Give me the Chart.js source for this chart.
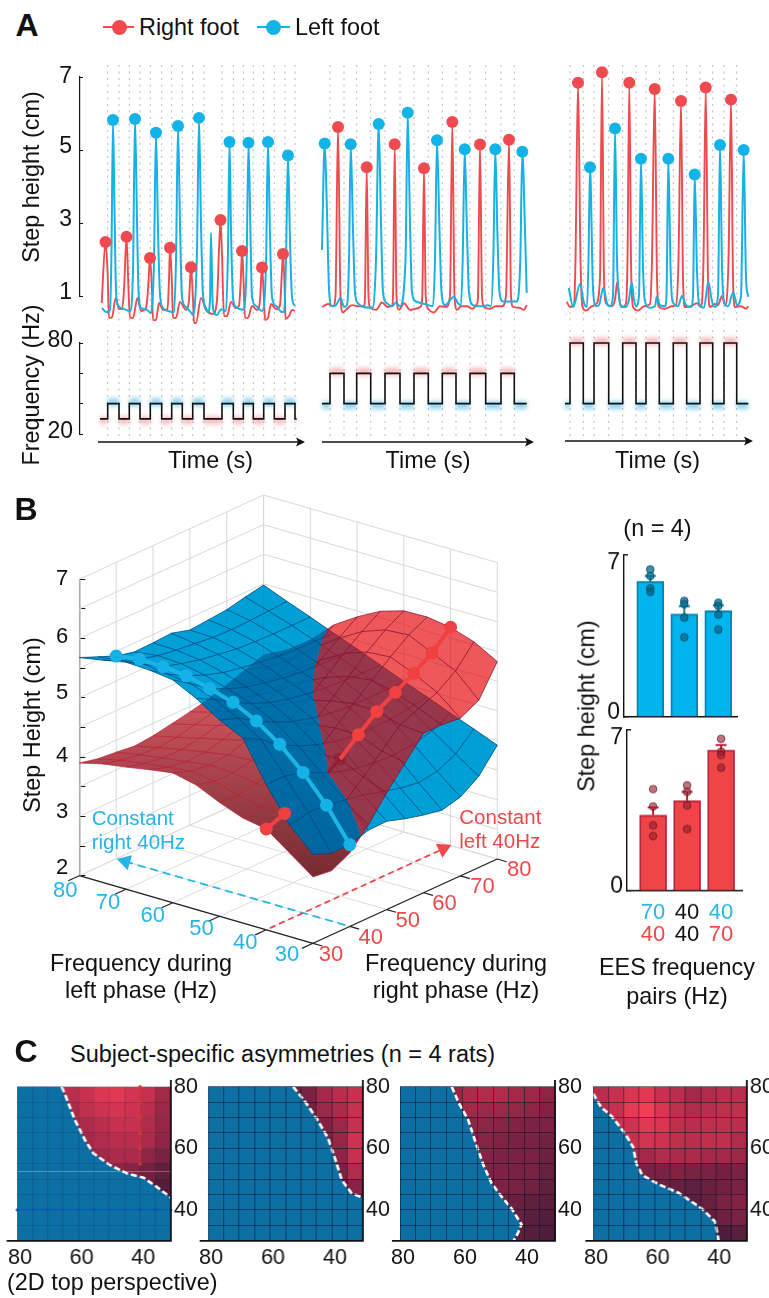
<!DOCTYPE html>
<html><head><meta charset="utf-8">
<style>
html,body{margin:0;padding:0;background:#fff;width:769px;height:1298px;overflow:hidden}
canvas{position:absolute;display:block}
.t{position:absolute;font-family:"Liberation Sans",Arial,sans-serif;color:#111;white-space:nowrap;line-height:1}
</style>
<script src="https://cdn.jsdelivr.net/npm/chart.js@4/dist/chart.umd.js"></script>
</head><body>
<script>
/* ---------- DATA : panel A (time in arbitrary ticks, height in cm, frequency in Hz) ---------- */
const p1RedTrace=[[21.7,.81],[25.5,2.48],[27.5,1.7],[29,.4],[32,.42],[35.7,.95],[39,.64],[42,.64],[44,1.16],[46.5,2.62],[48.5,1.16],[50,.4],[53,.4],[57.5,.95],[61,.59],[66,.67],[68,1.16],[70,2.04],[72,1.16],[73,.34],[76,.34],[79,.81],[83,.62],[87.5,.64],[89,1.44],[90,2.32],[92,1.3],[93,.4],[96,.4],[100,.84],[106,.62],[109,.89],[111,1.79],[113,.89],[114,.26],[116,.26],[121,.95],[126,.62],[133,.51],[137,.89],[139,2.26],[140.5,3.08],[142,2.12],[144,.45],[147,.45],[151,.84],[156,.67],[159,.73],[161,1.58],[162,2.23],[163.5,1.44],[165,.4],[168,.4],[172,.73],[177,.62],[180,.89],[182,1.78],[184,.89],[185,.34],[188,.4],[191,.78],[196,.64],[200,.75],[202,1.71],[203,2.15],[205,.89],[205.5,.37],[209,.45],[212,.62],[215,.59]];
const p1BlueTrace=[[22,.67],[26,.56],[30,.62],[31.5,2.26],[33,5.82],[34.5,3.36],[36,1.16],[38,.75],[44,.64],[50,.59],[53,1.71],[55,5.85],[57,3.08],[58.5,1.16],[61,.67],[66,.64],[71,.53],[74,1.99],[76,5.47],[78,2.81],[80,1.03],[83,.67],[88,.59],[94,.56],[96,1.99],[98,5.66],[100,2.95],[102,.97],[106,.7],[112,.51],[113,.48],[117,2.26],[119,5.88],[121,2.95],[123,1.03],[126,.67],[128,.56],[130,.89],[131,2.73],[132.5,.89],[134,.56],[137,.48],[141,.64],[146,.59],[148,2.26],[149.5,5.22],[151,2.81],[153,.95],[156,.7],[163,.62],[166.5,1.71],[168.5,5.2],[170.5,2.67],[172,.97],[176,.73],[182,.59],[186,1.85],[188,5.22],[190,2.67],[192,.97],[196,.73],[202,.56],[204,.56],[206,1.99],[208,4.85],[210,2.53],[212,.97],[215,.73]];
const p2RedTrace=[[2,.7],[8,.78],[13,.72],[15.5,1],[18,5.63],[20.5,1],[23,.55],[26,.62],[32,.75],[38,.72],[44,.72],[45,1],[46.7,4.53],[48.5,1],[50,.68],[56,.62],[62,.82],[68,.7],[72,.72],[73,1],[74.7,5.16],[76.5,1],[79,.62],[84,.8],[90,.62],[96,.65],[101,.72],[102.3,1],[104,4.5],[105.7,1],[108,.65],[114,.55],[120,.72],[126,.7],[130,1],[132.3,5.77],[134.5,1],[137,.62],[141,.72],[147,.72],[152,.65],[157,.78],[158,1],[160,5.15],[162,1],[164,.7],[170,.65],[176,.72],[182,.72],[186,1],[189,5.28],[191,1],[193,.7],[199,.68],[204,.62],[206.7,.75]];
const p2BlueTrace=[[2,2.26],[4.7,5.18],[6.7,3.6],[9,1.2],[12,.72],[16,.75],[20.7,.95],[24,.7],[27,.75],[29,2],[30.7,5.16],[33,2.8],[35,1.1],[38,.8],[42,.72],[50,.68],[53,.68],[56,2],[58.7,5.71],[61,3],[63,1.1],[67,.8],[72,.72],[76,.82],[80,.72],[85.5,2],[87.7,6.02],[90,3],[92,1.1],[96,.85],[105,.78],[113,.72],[115,2],[117,5.27],[119.5,2.8],[121.5,1.1],[125,.75],[134,.98],[138,.8],[141,.75],[142.7,2],[144.7,5.02],[147,2.7],[149,1.1],[153,.75],[160,.72],[168,.75],[171,.72],[173.3,2],[175.3,5.02],[177.5,2.6],[179.5,1.1],[183,.85],[190,.85],[197,.85],[200.3,2],[202.3,4.95],[205,2.8],[206.7,1.08]];
const p3RedTrace=[[6.7,.84],[10,.7],[14,.75],[15.5,2],[18,6.84],[20.5,2],[22.5,.7],[26,.6],[32,.72],[36,.78],[40,1.5],[42,7.13],[44,1.5],[46,.8],[52,.72],[55,.9],[57.3,1.39],[60,.8],[63,.7],[66,.8],[67.5,2],[69.3,6.84],[71,2],[73,.7],[78,.6],[84,.72],[90,.78],[92,2],[94.7,6.67],[97,1.5],[99,.7],[105,.65],[112,.72],[116,.75],[118.5,2],[121,6.34],[123,1.5],[125,.7],[131,.72],[137,.8],[141,.7],[143.5,2],[145.7,6.71],[148,1.5],[150,.7],[155,.78],[158,.75],[162,1],[165,.75],[168.5,2],[171,6.38],[173,1.5],[175,.7],[181,.72],[186,.65],[188.3,.72]];
const p3BlueTrace=[[8.7,1.22],[13.3,.7],[20,1.33],[24,.8],[27,.7],[28.5,2],[30,4.53],[33,1.2],[36,.72],[39,.75],[43.3,1.22],[47,.8],[50,.72],[53,1],[55,5.59],[57,2],[59,1],[62,.7],[66,.7],[69,.9],[71.7,1.38],[74,.9],[76,.72],[79,1],[81,4.76],[83,1.8],[85,.85],[90,.68],[95,.72],[96.7,.98],[100,.75],[105,.72],[106.5,1],[108.3,4.76],[110.5,1.8],[112.5,.85],[118,.72],[122,1],[126,.75],[131,.7],[133,1],[134.7,4.33],[137,1.7],[139,.8],[144,.68],[148.3,1.39],[152,.85],[155,.7],[158,1],[160,5.14],[162,1.8],[164,.85],[168,.72],[173.3,1.1],[177,.75],[181,1],[183.7,5],[186,1.5],[188.3,.98]];
const p1BluePeakT=[33,55,76,98,119,149.5,168.5,188,208];
const p1BluePeakH=[5.82,5.85,5.47,5.66,5.88,5.22,5.2,5.22,4.85];
const p1RedPeakT=[25.5,46.5,70,90,111,140.5,162,182,203];
const p1RedPeakH=[2.48,2.62,2.04,2.32,1.79,3.08,2.23,1.78,2.15];
const p2BluePeakT=[4.7,30.7,58.7,87.7,117,144.7,175.3,202.3];
const p2BluePeakH=[5.18,5.16,5.71,6.02,5.27,5.02,5.02,4.95];
const p2RedPeakT=[18,46.7,74.7,104,132.3,160,189];
const p2RedPeakH=[5.63,4.53,5.16,4.5,5.77,5.15,5.28];
const p3RedPeakT=[18,42,69.3,94.7,121,145.7,171];
const p3RedPeakH=[6.84,7.13,6.84,6.67,6.34,6.71,6.38];
const p3BluePeakT=[30,55,81,108.3,134.7,160,183.7];
const p3BluePeakH=[4.53,5.59,4.76,4.76,4.33,5.14,5];
const p1Rise=[27.7,49.3,70.3,91.7,112.7,142,163.3,183.7,205];
const p1Fall=[39,60,81.7,102.3,124,153.3,173.3,194.3,215];
const p2Rise=[10,36.7,65,94,122.3,150,181];
const p2Fall=[24,50.7,80,108.3,136,165.7,194.3];
const p3Rise=[10,34,62.7,86,113.3,140,164];
const p3Fall=[23.3,48.7,76,99.3,126.7,152.7,176.7];
const freqLevels=[[30,40],[40,60],[40,80]];
const freqSpan=[[20,216.7],[2,206.7],[5,188.3]];

/* ---------- DATA : panel B ---------- */
const freqGrid=[80,75,70,65,60,55,50,45,40,35,30];           /* rows: left-phase Hz */
const freqCols=[30,35,40,45,50,55,60,65,70,75,80];           /* cols: right-phase Hz */
const leftFootSurface=[
[5.68,5.55,5.42,5.35,5.36,5.38,5.29,5.32,5.35,5.42,5.48],
[5.75,5.6,5.48,5.4,5.35,5.32,5.28,5.27,5.28,5.3,5.32],
[5.83,5.65,5.47,5.38,5.3,5.25,5.2,5.18,5.17,5.17,5.17],
[5.81,5.6,5.43,5.3,5.2,5.14,5.09,5.05,5.03,5.02,5.01],
[5.76,5.55,5.33,5.18,5.07,5,4.94,4.9,4.88,4.87,4.86],
[5.56,5.4,5.21,5.05,4.92,4.84,4.78,4.74,4.72,4.71,4.7],
[5.31,5.2,5.01,4.85,4.72,4.63,4.57,4.54,4.53,4.54,4.54],
[5.12,4.95,4.73,4.56,4.44,4.35,4.3,4.29,4.3,4.34,4.39],
[4.45,4.45,4.37,4.22,4.1,4.02,3.98,3.97,3.99,4.08,4.23],
[3.88,3.95,3.93,3.88,3.82,3.73,3.65,3.6,3.65,3.8,4.08],
[3.5,3.38,3.38,3.48,3.49,3.39,3.31,3.25,3.33,3.54,3.92]];
const rightFootSurface=[
[3.9,3.83,3.8,3.76,3.79,3.85,3.91,3.98,4.08,4.19,4.3],
[4,3.92,3.87,3.85,3.88,3.95,4.02,4.1,4.22,4.36,4.5],
[4.06,3.98,3.93,3.93,3.98,4.05,4.15,4.27,4.42,4.6,4.78],
[4.13,4.03,3.98,4,4.07,4.18,4.32,4.47,4.68,4.92,5.15],
[4.19,4.08,4.04,4.07,4.17,4.33,4.5,4.72,4.95,5.18,5.4],
[4.1,4.02,4.02,4.09,4.23,4.44,4.68,4.92,5.18,5.41,5.61],
[3.92,3.9,3.96,4.08,4.27,4.52,4.78,5.05,5.32,5.55,5.73],
[3.77,3.8,3.93,4.08,4.3,4.58,4.85,5.1,5.35,5.58,5.74],
[3.7,3.82,3.96,4.11,4.31,4.58,4.83,5.01,5.19,5.39,5.68],
[3.41,3.45,3.6,3.85,4.12,4.42,4.72,4.85,4.98,5.2,5.55],
[3.12,3.08,3.24,3.57,3.97,4.33,4.69,4.69,4.66,4.82,5.33]];
const constRight40=[5.42,5.48,5.47,5.43,5.33,5.21,5.01,4.73,4.37,3.93,3.38]; /* fr=40, along freqGrid */
const constLeft40=[3.7,3.82,3.96,4.11,4.31,4.58,4.83,5.01,5.19,5.39,5.68];   /* fl=40, along freqCols */
const axisHz=[80,70,60,50,40,30];
const barPositions=[1,2,3];
const leftBars=[5.87,4.45,4.59];
const leftCaps=[6.1,4.79,4.83];
const leftDots=[[6.38,6.1,5.56,5.41],[5.02,4.88,4.3,3.45],[4.94,4.8,4.43,3.78]];
const rightBars=[3.3,3.92,6.13];
const rightCaps=[3.63,4.31,6.35];
const rightDots=[[4.43,3.67,2.85,2.38],[4.59,4.31,3.72,2.69],[6.62,6.06,5.91,5.36]];
const pairTop=['70','40','40'];
const pairBottom=['40','40','70'];

/* ---------- DATA : panel C (rows fr 80→30, cols fl 80→30) ---------- */
const asym1=[[0,0,.85,.85,.95,1.15,1.2,1.05,.95,.7],[0,0,0,.75,.9,1,1.05,1,.85,.65],[0,0,0,.75,.75,.85,.95,.95,.8,.6],[0,0,0,0,.7,.8,.85,.85,.75,.55],[0,0,0,0,.6,.7,.75,.75,.55,.4],[0,0,0,0,.6,.55,.55,.5,.35,.2],[0,0,0,0,0,.45,.45,.4,.3,.1],[0,0,0,0,0,0,0,.3,.2,.05],[0,0,0,0,0,0,0,0,0,0],[0,0,0,0,0,0,0,0,0,0]];
const asym2=[[0,0,0,0,0,.3,.4,.7,.85,.95],[0,0,0,0,0,0,.35,.65,.75,.95],[0,0,0,0,0,0,.3,.45,.65,.95],[0,0,0,0,0,0,0,.4,.6,1],[0,0,0,0,0,0,0,.3,.55,.95],[0,0,0,0,0,0,0,0,.4,.8],[0,0,0,0,0,0,0,0,.15,.5],[0,0,0,0,0,0,0,0,.05,.15],[0,0,0,0,0,0,0,0,0,0],[0,0,0,0,0,0,0,0,0,0]];
const asym3=[[0,0,0,.6,.75,.8,.8,.7,.65,.55],[0,0,0,.6,.7,.65,.65,.6,.55,.45],[0,0,0,0,.55,.55,.5,.45,.42,.42],[0,0,0,0,.5,.5,.45,.4,.4,.33],[0,0,0,0,0,.5,.42,.4,.38,.3],[0,0,0,0,0,.45,.42,.38,.38,.25],[0,0,0,0,0,0,.42,.38,.33,.2],[0,0,0,0,0,0,.35,.28,.2,.15],[0,0,0,0,0,0,0,.25,.15,.1],[0,0,0,0,0,0,0,.2,.12,.05]];
const asym4=[[.85,.95,1.1,1.2,.95,.85,.7,.8,.85,.85],[.85,.95,1.25,1.35,1.1,.9,.8,.85,.9,.9],[0,.95,1,1.2,1.1,.9,.85,.9,.9,.85],[0,0,.95,1.05,1,.9,.85,.9,.9,.8],[0,0,.75,.7,.8,.75,.75,.7,.7,.65],[0,0,.4,.4,.4,.45,.4,.4,.35,.4],[0,0,0,.35,.3,.25,.2,.25,.35,.4],[0,0,0,0,0,.15,.15,.25,.4,.45],[0,0,0,0,0,0,0,.2,.3,.4],[0,0,0,0,0,0,0,0,.05,.15]];
const boundary1=[[65.5,80],[63.9,76.2],[61.2,69.2],[57.9,62.7],[55.2,58.4],[49.8,54.6],[44.3,51.9],[38.9,50.5],[34.6,47.5],[30,44]];
const boundary2=[[52.5,80],[48.7,75.2],[44.9,69.7],[41.2,63.2],[39,56.7],[36.8,49.7],[33.6,45.4],[30,44]];
const boundary3=[[63.3,80],[61.2,75.1],[58,69.2],[55.3,61],[53.1,54.6],[50.4,48.6],[47.2,44.3],[44,40.5],[40.8,35.3],[42,32.4],[43.4,30]];
const boundary4=[[80,77.8],[77.3,73.3],[74,70.5],[69.7,64.9],[67,60.5],[65.9,55.1],[64,51.3],[58.8,48.4],[52.3,45.6],[44.7,40.5],[40.3,36.2],[39.2,30]];
const heatHz=[75,70,65,60,55,50,45,40,35,30];

/* ---------- styling ---------- */
const RED='#ee4a4f', BLUE='#18b1e2', TXTRED='#f0474a', TXTBLUE='#27b4e8', INK='#111';
Chart.defaults.font.family='"Liberation Sans",Arial,sans-serif';
Chart.defaults.color=INK;

Chart.register({
 id:'polyLayer',
 beforeDatasetDraw(chart,args){
  const ds=chart.data.datasets[args.index];
  if(!ds.polyCounts) return;
  const ctx=chart.ctx, pts=args.meta.data;
  const path=()=>{ctx.beginPath();let k=0;
    for(const n of ds.polyCounts){for(let i=0;i<n;i++){const p=pts[k++];i?ctx.lineTo(p.x,p.y):ctx.moveTo(p.x,p.y);}ctx.closePath();}};
  ctx.save();
  if(ds.polyPre){ctx.globalCompositeOperation='multiply';ctx.fillStyle=ds.polyPre;path();ctx.fill();ctx.globalCompositeOperation='source-over';}
  if(ds.polyGradient){const s=chart.scales.y,[a,ca,b,cb]=ds.polyGradient;
    const g=ctx.createLinearGradient(0,s.getPixelForValue(a),0,s.getPixelForValue(b));g.addColorStop(0,ca);g.addColorStop(1,cb);ctx.fillStyle=g;}
  else ctx.fillStyle=ds.polyFill;
  path();ctx.fill();ctx.restore();
  return false;
 }
},{
 id:'blurLayer',
 beforeDatasetDraw(chart,args){const ds=chart.data.datasets[args.index];
  if(ds.blurPx){chart.ctx.save();chart.ctx.filter='blur('+ds.blurPx+'px)';}},
 afterDatasetDraw(chart,args){const ds=chart.data.datasets[args.index];
  if(ds.blurPx){chart.ctx.restore();}}
},{
 id:'nudge',
 beforeDraw(chart,args,opts){
  if(!opts.shifts) return;
  const items=chart.scales.y.getLabelItems();
  items.forEach((it,i)=>{if(opts.shifts[i]) it.options.translation=[it.options.translation[0],it.options.translation[1]+opts.shifts[i]];});
 }
});

function line(data,color,width,extra){return Object.assign({type:'scatter',data,showLine:true,borderColor:color,backgroundColor:color,borderWidth:width,pointRadius:0,clip:false,spanGaps:false},extra||{});}
function dots(data,color,r,extra){return Object.assign({type:'scatter',data,showLine:false,backgroundColor:color,borderColor:color,pointRadius:r,pointBorderWidth:0,clip:false},extra||{});}
const xy=a=>a.map(p=>({x:p[0],y:p[1]}));
const zip=(t,h)=>t.map((v,i)=>({x:v,y:h[i]}));
const zeroW=s=>{s.width=0;s.paddingTop=0;s.paddingBottom=0;s._computeLabelArea=()=>undefined;};
const zeroH=s=>{s.height=0;s.paddingLeft=0;s.paddingRight=0;s._computeLabelArea=()=>undefined;};

function makeChart(rect,area,scales,datasets,extra){
 const c=document.createElement('canvas');
 c.width=rect.w;c.height=rect.h;c.style.left=rect.x+'px';c.style.top=rect.y+'px';c.style.width=rect.w+'px';c.style.height=rect.h+'px';
 document.body.appendChild(c);
 const e=extra||{};
 return new Chart(c.getContext('2d'),{type:'scatter',
  data:{datasets:datasets.slice().reverse()},
  options:{responsive:false,animation:false,devicePixelRatio:1,
   layout:{padding:{left:area.l-rect.x,top:area.t-rect.y,right:rect.x+rect.w-area.r,bottom:rect.y+rect.h-area.b}},
   scales,
   plugins:Object.assign({legend:{display:false},tooltip:{enabled:false},title:{display:false}},e.pluginOpts||{})},
  plugins:e.plugins||[]});
}
function hiddenX(min,max){return {type:'linear',display:false,min,max};}
function leftAxis(min,max,step,labels,size,tick,pad,off,bw){
 return {type:'linear',position:'left',min,max,afterFit:zeroW,
  border:{display:true,color:INK,width:bw||1.2},
  grid:{drawOnChartArea:false,drawTicks:true,tickLength:-tick,color:INK,lineWidth:1},
  ticks:{stepSize:step,autoSkip:false,padding:pad,color:INK,labelOffset:off||0,font:{size},callback:v=>labels.includes(v)?String(v):''}};
}

/* ---------- text ---------- */
function T(txt,x,y,o){o=o||{};const d=document.createElement('div');d.className='t';d.textContent=txt;
 d.style.left=x+'px';d.style.top=y+'px';d.style.fontSize=(o.size||23.4)+'px';
 if(o.color)d.style.color=o.color;if(o.bold)d.style.fontWeight='bold';
 const tx=o.align==='left'?'0':'-50%';
 d.style.transform='translate('+tx+',-50%)'+(o.rot?' rotate('+o.rot+'deg)':'');
 document.body.appendChild(d);return d;}

/* ---------- Panel A ---------- */
function runs(rise,fall,span){const hi=[],lo=[];let s=span[0];
 rise.forEach((r,i)=>{lo.push({x:s,y:0},{x:r,y:0},{x:r,y:null});hi.push({x:r,y:1},{x:fall[i],y:1},{x:fall[i],y:null});s=fall[i];});
 lo.push({x:s,y:0},{x:span[1],y:0});return {hi,lo};}
function wave(rise,fall,span,lv){const w=[{x:span[0],y:lv[0]}];
 rise.forEach((r,i)=>{w.push({x:r,y:lv[0]},{x:r,y:lv[1]},{x:fall[i],y:lv[1]},{x:fall[i],y:lv[0]});});
 w.push({x:span[1],y:lv[0]});return w;}
function dotted(rise,fall,a,b){const out=[];rise.concat(fall).forEach(t=>{out.push({x:t,y:a},{x:t,y:b},{x:t,y:null});});return out;}
const dotStyle={borderDash:[2,4.5]};
function panelA(cfg){
 const W=cfg.r-cfg.l, showAxis=cfg.axis;
 const yH=showAxis?leftAxis(1,7,2,[1,3,5,7],23,3,11,0):{type:'linear',display:false,min:1,max:7};
 makeChart({x:cfg.l-40,y:50,w:W+60,h:285},{l:cfg.l,r:cfg.r,t:77,b:296},
  {x:hiddenX(0,W),y:yH},
  [line(dotted(cfg.rise,cfg.fall,7.33,.2),'#b9b9b9',1,dotStyle),
   line(xy(cfg.red),RED,1.9,{cubicInterpolationMode:'monotone'}),
   line(xy(cfg.blue),BLUE,2,{cubicInterpolationMode:'monotone'}),
   dots(cfg.redPeaks,RED,6),
   dots(cfg.bluePeaks,'#12b4e8',6)],
  {pluginOpts:showAxis?{nudge:{shifts:[-3,-3,-3,0]}}:{}});
 const yF=showAxis?leftAxis(20,80,20,[20,80],23,3,10,-2):{type:'linear',display:false,min:20,max:80};
 const lv=cfg.level, R=runs(cfg.rise,cfg.fall,cfg.span);
 const shift=(a,v)=>a.map(p=>({x:p.x,y:p.y===null?null:v}));
 const end=cfg.arrow[1];
 const head=[{x:end.x+3,y:end.y},{x:end.x-6,y:end.y+3},{x:end.x-4,y:end.y},{x:end.x-6,y:end.y-3}];
 makeChart({x:cfg.l-40,y:325,w:W+60,h:130},{l:cfg.l,r:cfg.r,t:343,b:434},
  {x:hiddenX(0,W),y:yF},
  [line(dotted(cfg.rise,cfg.fall,88.6,18.7),'#b9b9b9',1,dotStyle),
   line(shift(R.hi,lv[1]+1),cfg.hiGlow,8,{blurPx:2}),
   line(shift(R.lo,lv[0]-1),cfg.loGlow,8,{blurPx:2}),
   line(wave(cfg.rise,cfg.fall,cfg.span,lv),'#111',1.6),
   line(cfg.arrow,'#111',1.5),
   polyDs(head,[4],{polyFill:'#111'})]);
}
const polyDs=(data,polyCounts,o)=>Object.assign({type:'scatter',data,polyCounts,showLine:false,pointRadius:0,clip:false},o);
const GLOWB='rgba(40,170,225,.5)',GLOWR='rgba(240,80,90,.38)';
panelA({l:80,r:305,axis:true,rise:p1Rise,fall:p1Fall,span:freqSpan[0],level:freqLevels[0],red:p1RedTrace,blue:p1BlueTrace,
 redPeaks:zip(p1RedPeakT,p1RedPeakH),bluePeaks:zip(p1BluePeakT,p1BluePeakH),hiGlow:GLOWB,loGlow:GLOWR,
 arrow:[{x:18,y:14.7},{x:222,y:14.7}]});
panelA({l:320,r:540,axis:false,rise:p2Rise,fall:p2Fall,span:freqSpan[1],level:freqLevels[1],red:p2RedTrace,blue:p2BlueTrace,
 redPeaks:zip(p2RedPeakT,p2RedPeakH),bluePeaks:zip(p2BluePeakT,p2BluePeakH),hiGlow:GLOWR,loGlow:GLOWB,
 arrow:[{x:2,y:14.7},{x:211,y:14.7}]});
panelA({l:560,r:760,axis:false,rise:p3Rise,fall:p3Fall,span:freqSpan[2],level:freqLevels[2],red:p3RedTrace,blue:p3BlueTrace,
 redPeaks:zip(p3RedPeakT,p3RedPeakH),bluePeaks:zip(p3BluePeakT,p3BluePeakH),hiGlow:GLOWR,loGlow:GLOWB,
 arrow:[{x:5,y:15.4},{x:190,y:15.4}]});

T('A',27,25,{size:32,bold:true});
T('Step height (cm)',32,177,{rot:-90});
T('Frequency (Hz)',32,385,{rot:-90});
T('Time (s)',210.5,461);T('Time (s)',428,461);T('Time (s)',657.5,461);
T('Right foot',139,28,{align:'left'});T('Left foot',295,28,{align:'left'});
/* legend keys */
function key(x1,x2,cx,col){const l=document.createElement('div');l.style.cssText='position:absolute;left:'+x1+'px;top:26px;width:'+(x2-x1)+'px;height:2px;background:'+col;document.body.appendChild(l);
 const d=document.createElement('div');d.style.cssText='position:absolute;left:'+(cx-7.5)+'px;top:19.5px;width:15px;height:15px;border-radius:50%;background:'+col;document.body.appendChild(d);}
key(103,134,119,RED);key(257,290,273,'#12b4e8');

/* ---------- Panel B : 3-D surfaces projected on the chart's own scales ---------- */
const proj=(fl,fr,h)=>({x:4.674*(80-fl)+3.686*(fr-30),y:h-(1.352*(80-fl)-1.686*(fr-30))/59.28});
const GAP=()=>({x:0,y:null});
function seg(out,a,b){out.push(proj(a[0],a[1],a[2]),proj(b[0],b[1],b[2]),GAP());}
const walls=[],floorLines=[],axesLines=[];
const h2s=[2,2.5,3,3.5,4,4.5,5,5.5,6,6.5,7];
axisHz.forEach(v=>{
 seg(walls,[80,v,2],[80,v,7]);seg(walls,[v,80,2],[v,80,7]);
 seg(floorLines,[v,30,2],[v,80,2]);seg(floorLines,[80,v,2],[30,v,2]);
 seg(axesLines,[v,30,2],[v,27,2]);seg(axesLines,[30,v,2],[28,v,2]);
});
h2s.forEach(h=>{seg(walls,[80,30,h],[80,80,h]);seg(walls,[80,80,h],[30,80,h]);});
seg(axesLines,[80,30,2],[30,30,2]);seg(axesLines,[30,30,2],[30,80,2]);

const blueFlat=[],blueCounts=[],blueMesh=[];
const redLowFlat=[],redLowCounts=[],redHiFlat=[],redHiCounts=[],redLowMesh=[],redHiMesh=[];
const node=(i,j)=>({fl:freqGrid[i],fr:freqCols[j],r:rightFootSurface[i][j],d:rightFootSurface[i][j]-leftFootSurface[i][j]});
function clipPoly(corners,sign){const out=[];
 corners.forEach((a,k)=>{const b=corners[(k+1)%corners.length];
  if(sign*a.d>=0)out.push(a);
  if(a.d*b.d<0){const t=a.d/(a.d-b.d);out.push({fl:a.fl+t*(b.fl-a.fl),fr:a.fr+t*(b.fr-a.fr),r:a.r+t*(b.r-a.r),d:0});}
 });return out;}
function meshSeg(a,b){
 const put=(o,p,q)=>{o.push(proj(p.fl,p.fr,p.r),proj(q.fl,q.fr,q.r),GAP());};
 if(a.d*b.d<0){const t=a.d/(a.d-b.d),m={fl:a.fl+t*(b.fl-a.fl),fr:a.fr+t*(b.fr-a.fr),r:a.r+t*(b.r-a.r),d:0};
  put(a.d<0?redLowMesh:redHiMesh,a,m);put(b.d<0?redLowMesh:redHiMesh,m,b);}
 else put((a.d+b.d)<0?redLowMesh:redHiMesh,a,b);}
for(let i=0;i<11;i++)for(let j=0;j<11;j++){
 const B=(a,b)=>proj(freqGrid[a],freqCols[b],leftFootSurface[a][b]);
 if(j<10){blueMesh.push(B(i,j),B(i,j+1),GAP());meshSeg(node(i,j),node(i,j+1));}
 if(i<10){blueMesh.push(B(i,j),B(i+1,j),GAP());meshSeg(node(i,j),node(i+1,j));}
 if(i<10&&j<10){
  blueFlat.push(B(i,j),B(i,j+1),B(i+1,j+1),B(i+1,j));blueCounts.push(4);
  const q=[node(i,j),node(i,j+1),node(i+1,j+1),node(i+1,j)];
  const lo=clipPoly(q,-1),hi=clipPoly(q,1);
  if(lo.length>2){lo.forEach(p=>redLowFlat.push(proj(p.fl,p.fr,p.r)));redLowCounts.push(lo.length);}
  if(hi.length>2){hi.forEach(p=>redHiFlat.push(proj(p.fl,p.fr,p.r)));redHiCounts.push(hi.length);}
 }
}
const bluePath=freqGrid.map((f,i)=>proj(f,40,constRight40[i]));
const redPath=freqCols.map((f,i)=>proj(40,f,constLeft40[i]));
const bLabels={id:'floorLabels',afterDatasetsDraw(chart){
 const ctx=chart.ctx,X=chart.scales.x,Y=chart.scales.y;
 ctx.save();ctx.font='22px "Liberation Sans",Arial,sans-serif';ctx.textAlign='center';ctx.textBaseline='middle';
 const blueOff=[[-14,15],[-18,14],[-20,13],[-18,13],[-21,13],[-26,12]];
 const redOff=[[22,11],[22,11],[21,11],[21,11],[21,11],[18,12]];
 axisHz.forEach((v,i)=>{
  let p=proj(v,30,2);ctx.fillStyle=TXTBLUE;
  ctx.fillText(String(v),X.getPixelForValue(p.x)+blueOff[i][0],Y.getPixelForValue(p.y)+blueOff[i][1]);
  p=proj(30,v,2);ctx.fillStyle=TXTRED;
  ctx.fillText(String(v),X.getPixelForValue(p.x)+redOff[i][0],Y.getPixelForValue(p.y)+redOff[i][1]);
 });ctx.restore();}};
const whiteBg={id:'whiteBg',beforeDraw(chart){const c=chart.ctx;c.save();c.fillStyle='#fff';c.fillRect(0,0,chart.width,chart.height);c.restore();}};
const floorBlue=[proj(31,40,2),proj(79,40,2)], floorRed=[proj(40,31,2),proj(40,79,2)];
const arrowBlue=[proj(78,40,2)], arrowRed=[proj(40,78,2)];
makeChart({x:0,y:480,w:590,h:500},{l:79.3,r:530,t:579.3,b:875.7},
 {x:hiddenX(0,450.7),y:leftAxis(2,7,.5,[2,3,4,5,6,7],22,6,17,0)},
 [line(walls,'#d4dadc',1),
  line(floorLines,'#d8dde0',1),
  line(floorBlue,TXTBLUE,1.8,{borderDash:[8,5]}),
  line(floorRed,TXTRED,1.8,{borderDash:[6,4]}),
  dots(arrowBlue,TXTBLUE,9,{pointStyle:'triangle',pointRotation:-73.9}),
  dots(arrowRed,TXTRED,9,{pointStyle:'triangle',pointRotation:65.4}),
  line(axesLines,'#222',1.2),
  polyDs(redLowFlat,redLowCounts,{polyGradient:[4.96,'rgb(205,85,95)',1.93,'rgb(115,42,48)']}),
  line(redLowMesh,'rgba(190,28,55,.75)',.9),
  line(redPath.slice(1,5),RED,4),
  dots(redPath.slice(2,5),'#ee3f3f',6.5),
  polyDs(blueFlat,blueCounts,{polyPre:'rgb(0,255,255)',polyFill:'rgba(0,123,199,.72)'}),
  line(blueMesh,'rgba(8,70,125,.85)',.9),
  line(redPath.slice(0,2),'#f0403f',4),
  dots(redPath.slice(0,2),'#f0403f',6.5),
  polyDs(redHiFlat,redHiCounts,{polyFill:'rgba(229,0,3,.655)'}),
  line(redHiMesh,'rgba(125,15,50,.8)',.9),
  line(redPath.slice(4),'#f0403f',4),
  dots(redPath.slice(5),'#f0403f',6.5),
  line(bluePath,'#1cb5e6',4),
  dots(bluePath,'#14b2e6',6.5)],
 {plugins:[whiteBg,bLabels],pluginOpts:{nudge:{shifts:[-8,0,-4,0,-1,0,-5,0,-2,0,0]}}});
T('B',26,509,{size:32,bold:true});
T('Step Height (cm)',33,725,{rot:-90});
T('Constant',91.7,818,{align:'left',size:20.5,color:TXTBLUE});
T('right 40Hz',91.7,842,{align:'left',size:20.5,color:TXTBLUE});
T('Constant',459.3,817,{align:'left',size:20.5,color:TXTRED});
T('left 40Hz',459.3,841,{align:'left',size:20.5,color:TXTRED});
T('Frequency during',141,964);T('left phase (Hz)',141,991);
T('Frequency during',456,964);T('right phase (Hz)',456,991);

/* bars */
function bars(cfg){
 const px=34, W=cfg.r-cfg.l, min=1-(cfg.c1-cfg.l)/px, max=min+W/px;
 const tick3=s=>{s.ticks=barPositions.map(v=>({value:v}));};
 const xAxis=(id,labels,colors,pad,show)=>({type:'linear',position:'bottom',min,max,axis:'x',offset:false,afterFit:zeroH,afterBuildTicks:tick3,
   border:{display:id==='x',color:INK,width:1.6},grid:{display:false,drawTicks:false,offset:false},
   ticks:{display:show,autoSkip:false,maxRotation:0,padding:pad,font:{size:22},color:c=>colors[c.index],callback:(v,i)=>labels[i]}});
 const scales={x:xAxis('x',pairTop,[TXTBLUE,INK,TXTBLUE],9,cfg.labels),
  y:{type:'linear',position:'left',min:0,max:7,afterFit:zeroW,afterBuildTicks:s=>{s.ticks=[{value:0},{value:7}];},
   border:{display:true,color:INK,width:1.4},grid:{drawOnChartArea:false,drawTicks:true,tickLength:-4,color:INK,lineWidth:1.4},
   ticks:{autoSkip:false,padding:8,color:INK,font:{size:23},callback:v=>String(v)}}};
 if(cfg.labels) scales.x2=xAxis('x2',pairBottom,[TXTRED,INK,TXTRED],31,true);
 const allDots=[];cfg.dots.forEach((a,i)=>a.forEach(v=>allDots.push({x:barPositions[i],y:v})));
 const ds=[{type:'bar',data:zip(barPositions,cfg.vals),backgroundColor:cfg.fill,borderColor:cfg.stroke,borderWidth:2,barThickness:27,grouped:false}];
 barPositions.forEach((p,i)=>ds.push(line([{x:p,y:cfg.vals[i]},{x:p,y:cfg.caps[i]}],cfg.err,2)));
 ds.push({type:'scatter',data:zip(barPositions,cfg.caps),showLine:false,pointStyle:'line',pointRadius:5.5,pointBorderWidth:2,borderColor:cfg.err,pointBorderColor:cfg.err,clip:false});
 ds.push({type:'scatter',data:allDots,showLine:false,pointRadius:3.8,pointBackgroundColor:cfg.dot,pointBorderColor:cfg.dotB,pointBorderWidth:1,clip:false});
 makeChart({x:cfg.l-35,y:cfg.t-20,w:W+50,h:cfg.b-cfg.t+(cfg.labels?75:32)},{l:cfg.l,r:cfg.r,t:cfg.t,b:cfg.b},scales,ds,{pluginOpts:{nudge:{shifts:[-4,8]}}});
}
bars({l:624,r:737,c1:650.3,t:555,b:716.7,vals:leftBars,caps:leftCaps,dots:leftDots,fill:'#00b5ee',stroke:'#0a84ac',err:'#0a7ea8',dot:'rgba(0,105,140,.75)',dotB:'rgba(0,70,100,.8)',labels:false});
bars({l:626.7,r:741.7,c1:652.8,t:730,b:890.7,vals:rightBars,caps:rightCaps,dots:rightDots,fill:'#f04548',stroke:'#b52a3c',err:'#c0233b',dot:'rgba(150,30,45,.62)',dotB:'rgba(110,25,35,.75)',labels:true});
T('(n = 4)',657.5,529);
T('Step height (cm)',587,706,{rot:-90});
T('EES frequency',677,968);T('pairs (Hz)',677,997);

/* ---------- Panel C ---------- */
function shade(v){const st=[[0,72,28,58],[.5,135,35,68],[1,205,50,80],[1.35,240,62,85]];
 for(let i=1;i<st.length;i++){if(v<=st[i][0]){const a=st[i-1],b=st[i],t=(v-a[0])/(b[0]-a[0]);
  return 'rgb('+[1,2,3].map(k=>Math.round(a[k]+t*(b[k]-a[k]))).join(',')+')';}}return 'rgb(240,62,85)';}
function heat(cfg){
 const cells=[],cols=[];
 cfg.m.forEach((row,r)=>row.forEach((v,c)=>{cells.push({x:heatHz[c]+2.5,y:heatHz[r]+2.5});cols.push(shade(v));}));
 const side=(cfg.r-cfg.l)/10+.6;
 const gridOpt={z:1,color:cfg.grid,lineWidth:1,drawTicks:false};
 const fmt=v=>[80,60,40].includes(v)?String(v):'';
 const poly=cfg.b.map(p=>({x:p[0],y:p[1]}));
 const last=cfg.b[cfg.b.length-1],first=cfg.b[0];
 if(last[1]>30) poly.push({x:30,y:30});
 poly.push({x:80,y:30});
 if(first[0]<80) poly.push({x:80,y:80});
 const ds=[dots(cells,cols,side*Math.SQRT1_2,{pointStyle:'rect',pointBackgroundColor:cols,clip:undefined}),
  polyDs(poly,[poly.length],{polyFill:'#0d6fa3'})];
 if(cfg.extra) cfg.extra.forEach(d=>ds.push(d));
 ds.push(line(xy(cfg.b),'#fff',2.6,{borderDash:[6,3]}));
 ds.push(line([{x:cfg.ext,y:30},{x:30,y:30},{x:30,y:82.2}],'#111',1.8));
 makeChart({x:cfg.l-17,y:1070,w:cfg.r-cfg.l+52,h:205},{l:cfg.l,r:cfg.r,t:1086.8,b:1240.8},
  {x:{type:'linear',reverse:true,min:30,max:80,position:'bottom',afterFit:zeroH,
    border:{display:false},grid:gridOpt,
    ticks:{stepSize:5,autoSkip:false,maxRotation:0,padding:4,labelOffset:3,font:{size:21.5},color:INK,callback:fmt}},
   y:{type:'linear',min:30,max:80,position:'right',afterFit:zeroW,
    border:{display:false},grid:gridOpt,
    ticks:{stepSize:5,autoSkip:false,padding:3,font:{size:21.5},color:INK,callback:fmt}}},
  ds);
}
const p1RedColumn=[80,75,70,65,60,55,50,45,40,35,30], p1BlueRow=[80,75,70,65,60,55,50,45,40,35,30];
heat({l:17.3,r:170.7,m:asym1,b:boundary1,ext:83.4,grid:'rgba(10,25,50,.16)',extra:[
 line([{x:30,y:52.5},{x:80,y:52.5}],'rgba(255,255,255,.28)',1),
 line(p1BlueRow.map(v=>({x:v,y:40})),'rgba(20,90,200,.8)',1,{pointRadius:1.2}),
 line(p1RedColumn.slice(0,6).map(v=>({x:40,y:v})),'rgba(240,60,60,.55)',1,{pointRadius:1.5,pointBackgroundColor:'#f04040'})]});
heat({l:208.3,r:362.7,m:asym2,b:boundary2,ext:82.7,grid:'rgba(5,15,35,.5)'});
heat({l:400,r:555,m:asym3,b:boundary3,ext:82.6,grid:'rgba(5,15,35,.5)'});
heat({l:593.3,r:746.7,m:asym4,b:boundary4,ext:82.5,grid:'rgba(5,15,35,.5)'});
T('C',26,1051,{size:32,bold:true});
T('Subject-specific asymmetries (n = 4 rats)',70,1055,{align:'left',size:23.5});
T('(2D top perspective)',7,1283,{align:'left',size:23.4});
</script>
</body></html>
